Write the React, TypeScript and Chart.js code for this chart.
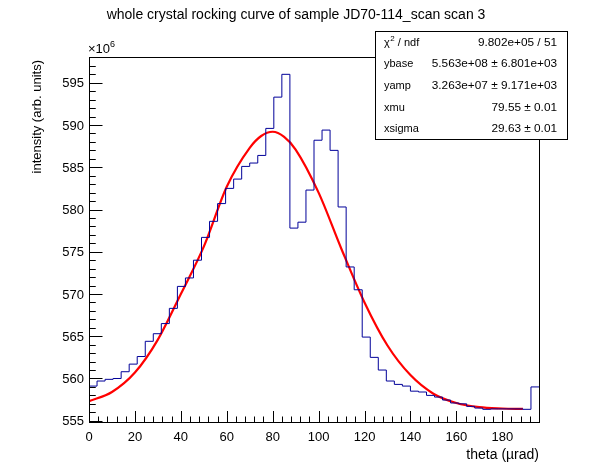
import { useEffect, useRef } from "react";
import { Chart, registerables } from "chart.js";

Chart.register(...registerables);

// histogram: theta bins of 3.5 µrad starting at 0, intensity in units of 1e6
const binWidth = 3.5;
const counts = [
    559.1, 559.7, 559.9, 560.0, 560.8, 561.7, 562.6, 564.4, 565.3, 566.5,
    568.3, 570.9, 571.9, 574.0, 576.7, 578.6, 580.7, 582.5, 583.6, 585.1,
    585.5, 586.4, 589.6, 593.3, 596.0, 577.8, 578.5, 582.3, 588.2, 589.4,
    587.0, 580.3, 573.2, 570.5, 564.9, 562.5, 561.0, 559.7, 559.3, 559.1,
    558.5, 558.4, 558.0, 557.8, 557.45, 557.1, 557.0, 556.7, 556.5, 556.35,
    556.4, 556.4, 556.4, 556.4, 556.35, 559.0
];

// fitted curve
const fitTheta = [0, 10, 20, 30, 40, 50, 60, 70, 75, 80, 85, 90, 100, 110, 120, 130, 140, 150, 160, 170, 180, 189];
const fitValues = [557.3, 558.4, 560.7, 564.6, 570.0, 575.6, 582.7, 587.3, 588.7, 589.2, 588.6, 587.1, 582.0, 575.3, 569.0, 563.9, 560.4, 558.2, 557.1, 556.6, 556.45, 556.4];

const xTicks = [0, 20, 40, 60, 80, 100, 120, 140, 160, 180];
const yTicks = [555, 560, 565, 570, 575, 580, 585, 590, 595];
const xMinorStep = 4;
const yMinorStep = 1;

const statsRows = [
    ["chi2", "9.802e+05 / 51"],
    ["ybase", "5.563e+08 ± 6.801e+03"],
    ["yamp", "3.263e+07 ± 9.171e+03"],
    ["xmu", "79.55 ± 0.01"],
    ["xsigma", "29.63 ± 0.01"]
];

const FONT = "\"Liberation Sans\", Arial, sans-serif";

const rootStyle = {
    id: "rootStyle",
    afterDraw(chart: any) {
        const { ctx, chartArea: a, scales } = chart;
        const xs = scales.x;
        const ys = scales.y;
        ctx.save();
        ctx.strokeStyle = "#000";
        ctx.lineWidth = 1;

        // frame
        ctx.strokeRect(Math.round(a.left) + 0.5, Math.round(a.top) + 0.5,
            Math.round(a.right - a.left), Math.round(a.bottom - a.top));

        // ticks drawn inside the frame
        ctx.beginPath();
        for (let v = xs.min; v <= xs.max + 1e-6; v += xMinorStep) {
            const px = Math.round(xs.getPixelForValue(v)) + 0.5;
            const len = v % 20 === 0 ? 11 : 5.5;
            ctx.moveTo(px, a.bottom);
            ctx.lineTo(px, a.bottom - len);
        }
        for (let v = Math.ceil(ys.min); v <= ys.max; v += yMinorStep) {
            const py = Math.round(ys.getPixelForValue(v)) + 0.5;
            const len = v % 5 === 0 ? 13.5 : 6.75;
            ctx.moveTo(a.left, py);
            ctx.lineTo(a.left + len, py);
        }
        ctx.stroke();

        // tick labels
        ctx.fillStyle = "#000";
        ctx.font = "13px " + FONT;
        ctx.textAlign = "center";
        ctx.textBaseline = "alphabetic";
        xTicks.forEach((t) => ctx.fillText(String(t), xs.getPixelForValue(t), 441));
        ctx.textAlign = "right";
        yTicks.forEach((t) => ctx.fillText(String(t), 84, ys.getPixelForValue(t) + 4.7));

        // exponent
        ctx.textAlign = "left";
        ctx.font = "13px " + FONT;
        ctx.fillText("×10", 88, 53);
        const w10 = ctx.measureText("×10").width;
        ctx.font = "9px " + FONT;
        ctx.fillText("6", 88 + w10, 47);

        // axis titles
        ctx.font = "14px " + FONT;
        ctx.textAlign = "right";
        ctx.fillText("theta (µrad)", a.right, 459);
        ctx.save();
        ctx.translate(41, 60);
        ctx.rotate(-Math.PI / 2);
        ctx.font = "13px " + FONT;
        ctx.fillText("intensity (arb. units)", 0, 0);
        ctx.restore();

        // title
        ctx.font = "14px " + FONT;
        ctx.textAlign = "center";
        ctx.fillText("whole crystal rocking curve of sample JD70-114_scan scan 3", 296, 19);

        // stats box
        const bx = 375, by = 31, bw = 192, bh = 108;
        ctx.fillStyle = "#fff";
        ctx.fillRect(bx, by, bw, bh);
        ctx.strokeRect(bx + 0.5, by + 0.5, bw, bh);
        ctx.fillStyle = "#000";
        const rowH = bh / statsRows.length;
        statsRows.forEach(([name, value], i) => {
            const base = by + rowH * (i + 0.5) + 4;
            ctx.font = "11px " + FONT;
            ctx.textAlign = "left";
            if (name === "chi2") {
                ctx.fillText("χ", 384, base);
                const wc = ctx.measureText("χ").width;
                ctx.font = "8px " + FONT;
                ctx.fillText("2", 384 + wc + 0.5, base - 5);
                const w2 = ctx.measureText("2").width;
                ctx.font = "11px " + FONT;
                ctx.fillText(" / ndf", 384 + wc + w2 + 0.5, base);
            } else {
                ctx.fillText(name, 384, base);
            }
            ctx.font = "11.8px " + FONT;
            ctx.textAlign = "right";
            ctx.fillText(value, 557, base);
        });
        ctx.restore();
    }
};

export default function App() {
    const canvasRef = useRef<HTMLCanvasElement | null>(null);
    const chartRef = useRef<Chart | null>(null);

    useEffect(() => {
        if (!canvasRef.current) return;
        if (chartRef.current) { chartRef.current.destroy(); }

        const histPoints = counts.map((c, i) => ({ x: i * binWidth, y: c }));
        histPoints.push({ x: counts.length * binWidth, y: counts[counts.length - 1] });
        const fitPoints = fitTheta.map((t, i) => ({ x: t, y: fitValues[i] }));

        chartRef.current = new Chart(canvasRef.current, {
            type: "line",
            data: {
                datasets: [
                    {
                        label: "scan",
                        data: histPoints,
                        borderColor: "#000099",
                        borderWidth: 1,
                        stepped: "before",
                        pointRadius: 0,
                        fill: false,
                    },
                    {
                        label: "fit",
                        data: fitPoints,
                        borderColor: "#ff0000",
                        borderWidth: 2.2,
                        cubicInterpolationMode: "monotone",
                        pointRadius: 0,
                        fill: false,
                    },
                ],
            },
            options: {
                responsive: false,
                animation: false,
                events: [],
                layout: { padding: { left: 89, top: 57, right: 59, bottom: 52 } },
                plugins: {
                    legend: { display: false },
                    tooltip: { enabled: false },
                },
                scales: {
                    x: { type: "linear", min: 0, max: 196, display: false },
                    y: { type: "linear", min: 554.85, max: 598.05, display: false },
                },
            },
            plugins: [rootStyle],
        });

        return () => {
            if (chartRef.current) {
                chartRef.current.destroy();
                chartRef.current = null;
            }
        };
    }, []);

    return (
        <div style={{ position: "absolute", left: 0, top: 0, width: 598, height: 474, background: "#fff" }}>
            <canvas ref={canvasRef} width={598} height={474} style={{ display: "block" }} />
        </div>
    );
}
